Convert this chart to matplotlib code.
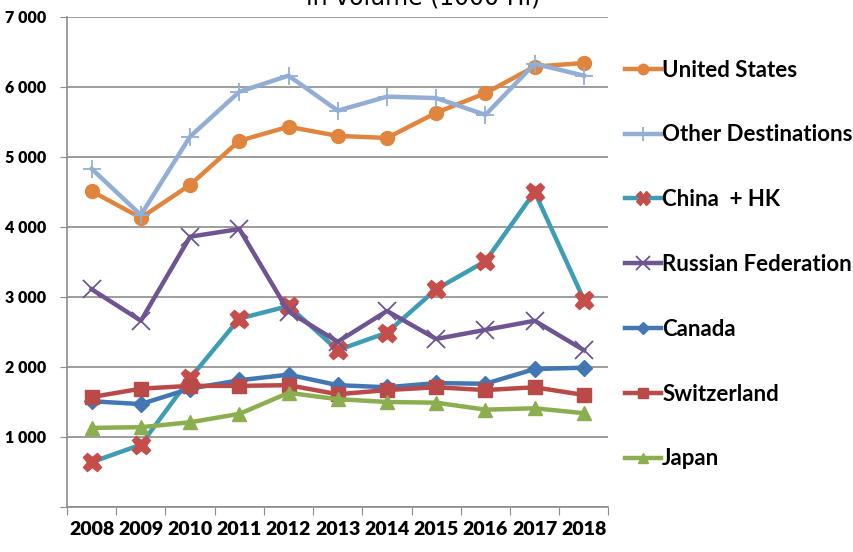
import numpy as np
import matplotlib
matplotlib.use("Agg")
import matplotlib.pyplot as plt

plt.rcParams['font.family'] = ['Lato', 'DejaVu Sans']
plt.rcParams['font.weight'] = 'bold'

years = ['2008', '2009', '2010', '2011', '2012', '2013', '2014', '2015', '2016', '2017', '2018']

united_states = [4510, 4130, 4600, 5230, 5430, 5300, 5270, 5630, 5910, 6290, 6340]
other_dest = [4830, 4170, 5290, 5930, 6160, 5660, 5860, 5840, 5600, 6330, 6160]
china_hk = [640, 890, 1840, 2690, 2870, 2240, 2490, 3110, 3510, 4500, 2960]
russia = [3110, 2660, 3860, 3970, 2790, 2360, 2800, 2400, 2530, 2660, 2240]
canada = [1510, 1470, 1690, 1810, 1890, 1740, 1710, 1770, 1760, 1970, 1990]
switzerland = [1570, 1690, 1730, 1730, 1740, 1610, 1670, 1710, 1670, 1710, 1600]
japan = [1130, 1140, 1210, 1330, 1630, 1540, 1500, 1490, 1390, 1410, 1340]

fig = plt.figure(figsize=(8.54, 5.52), dpi=100)
ax = fig.add_axes([0.0785, 0.0815, 0.634, 0.888])

x = np.arange(len(years))
lw = 3.2

ax.plot(x, united_states, color='#E0843E', lw=lw, marker='o', ms=10,
        label='United States', zorder=3)
ax.plot(x, other_dest, color='#93AED4', lw=lw, marker='+', ms=13, mew=1.3,
        label='Other Destinations', zorder=3)
ax.plot(x, china_hk, color='#3E9DB4', lw=lw, marker='X', ms=13,
        mfc='#C64E4A', mec='#C64E4A', label='China  + HK', zorder=3)
ax.plot(x, russia, color='#6E5592', lw=lw, marker='x', ms=13, mew=1.3,
        label='Russian Federation', zorder=3)
ax.plot(x, canada, color='#4277B4', lw=lw, marker='D', ms=8,
        label='Canada', zorder=3)
ax.plot(x, switzerland, color='#B94A47', lw=lw, marker='s', ms=10,
        label='Switzerland', zorder=3)
ax.plot(x, japan, color='#8BAE4F', lw=lw, marker='^', ms=10,
        label='Japan', zorder=3)

ax.set_xlim(-0.5, len(years) - 0.5)
ax.set_ylim(0, 7000)
ax.set_xticks(np.arange(-0.5, len(years)))
ax.set_xticklabels([])
ax.set_xticks(x, minor=True)
ax.set_xticklabels(years, minor=True, fontsize=14, fontweight='heavy')
ax.tick_params(axis='x', which='minor', length=0, pad=10)
ax.tick_params(axis='x', which='major', length=6, color='#8C8C8C', direction='out')

yt = np.arange(0, 7001, 1000)
ax.set_yticks(yt)
ax.set_yticklabels(['' if v == 0 else f"{v // 1000} 000" for v in yt],
                   fontsize=11.5, fontweight='heavy')
ax.tick_params(axis='y', length=5, color='#8C8C8C', pad=10)

ax.grid(axis='y', color='#8C8C8C', lw=1.2)
ax.set_axisbelow(True)
for s in ['top', 'right']:
    ax.spines[s].set_visible(False)
for s in ['left', 'bottom']:
    ax.spines[s].set_color('#8C8C8C')
    ax.spines[s].set_linewidth(1.2)

fig.text(0.495, 1.005, 'in volume (1000 Hl)', ha='center', va='center',
         fontsize=17, fontweight='normal', family=['DejaVu Sans'])

fig.legend(loc='upper left', bbox_to_anchor=(0.722, 0.908), frameon=False,
           fontsize=16, handlelength=1.6, handletextpad=0.05,
           labelspacing=1.97, borderaxespad=0, markerscale=0.75)

fig.savefig('out.png', dpi=100)
